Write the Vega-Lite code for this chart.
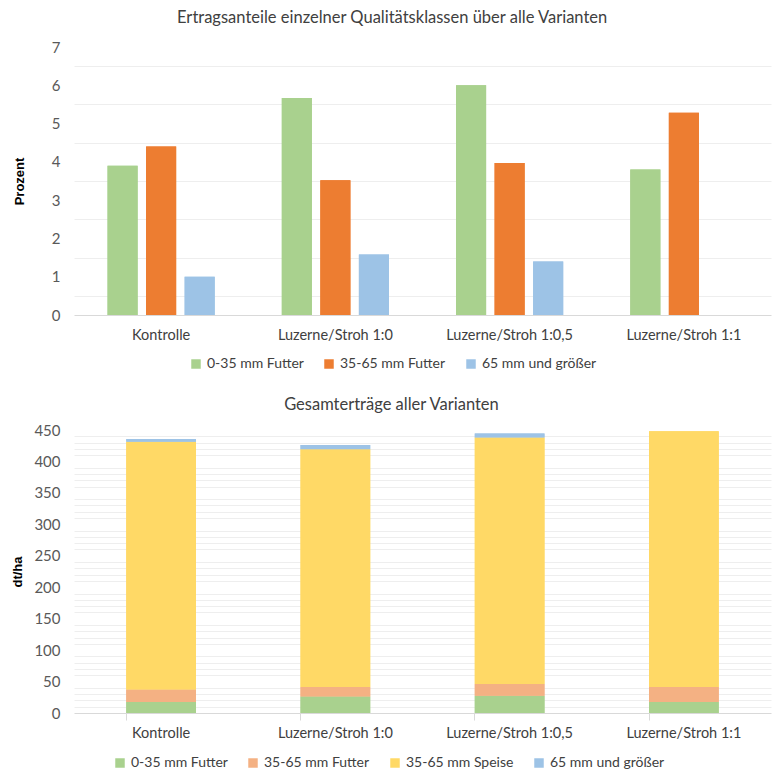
{
  "$schema": "https://vega.github.io/schema/vega-lite/v6.json",
  "background": "white",
  "padding": {"left": 11, "top": 9, "right": 8, "bottom": 4},
  "datasets": {
    "anteile": [
      {"Variante": "Kontrolle", "Klasse": "0-35 mm Futter", "Prozent": 3.9},
      {"Variante": "Kontrolle", "Klasse": "35-65 mm Futter", "Prozent": 4.4},
      {"Variante": "Kontrolle", "Klasse": "65 mm und größer", "Prozent": 1.0},
      {"Variante": "Luzerne/Stroh 1:0", "Klasse": "0-35 mm Futter", "Prozent": 5.67},
      {"Variante": "Luzerne/Stroh 1:0", "Klasse": "35-65 mm Futter", "Prozent": 3.52},
      {"Variante": "Luzerne/Stroh 1:0", "Klasse": "65 mm und größer", "Prozent": 1.58},
      {"Variante": "Luzerne/Stroh 1:0,5", "Klasse": "0-35 mm Futter", "Prozent": 6.0},
      {"Variante": "Luzerne/Stroh 1:0,5", "Klasse": "35-65 mm Futter", "Prozent": 3.97},
      {"Variante": "Luzerne/Stroh 1:0,5", "Klasse": "65 mm und größer", "Prozent": 1.4},
      {"Variante": "Luzerne/Stroh 1:1", "Klasse": "0-35 mm Futter", "Prozent": 3.8},
      {"Variante": "Luzerne/Stroh 1:1", "Klasse": "35-65 mm Futter", "Prozent": 5.28}
    ],
    "ertrag": [
      {"Variante": "Kontrolle", "Klasse": "0-35 mm Futter", "dt": 17.5},
      {"Variante": "Kontrolle", "Klasse": "35-65 mm Futter", "dt": 20},
      {"Variante": "Kontrolle", "Klasse": "35-65 mm Speise", "dt": 394},
      {"Variante": "Kontrolle", "Klasse": "65 mm und größer", "dt": 4.2},
      {"Variante": "Luzerne/Stroh 1:0", "Klasse": "0-35 mm Futter", "dt": 26.4},
      {"Variante": "Luzerne/Stroh 1:0", "Klasse": "35-65 mm Futter", "dt": 14.8},
      {"Variante": "Luzerne/Stroh 1:0", "Klasse": "35-65 mm Speise", "dt": 378},
      {"Variante": "Luzerne/Stroh 1:0", "Klasse": "65 mm und größer", "dt": 7},
      {"Variante": "Luzerne/Stroh 1:0,5", "Klasse": "0-35 mm Futter", "dt": 27.5},
      {"Variante": "Luzerne/Stroh 1:0,5", "Klasse": "35-65 mm Futter", "dt": 18.5},
      {"Variante": "Luzerne/Stroh 1:0,5", "Klasse": "35-65 mm Speise", "dt": 392},
      {"Variante": "Luzerne/Stroh 1:0,5", "Klasse": "65 mm und größer", "dt": 6.3},
      {"Variante": "Luzerne/Stroh 1:1", "Klasse": "0-35 mm Futter", "dt": 17.5},
      {"Variante": "Luzerne/Stroh 1:1", "Klasse": "35-65 mm Futter", "dt": 23.7},
      {"Variante": "Luzerne/Stroh 1:1", "Klasse": "35-65 mm Speise", "dt": 407}
    ]
  },
  "spacing": 25,
  "vconcat": [
    {
      "title": {"text": "Ertragsanteile einzelner Qualitätsklassen über alle Varianten", "offset": 14},
      "data": {"name": "anteile"},
      "width": 697,
      "height": 268,
      "encoding": {
        "x": {
          "field": "Variante", "type": "nominal", "sort": null,
          "scale": {"paddingInner": 0.385, "paddingOuter": 0.1925},
          "axis": {"title": null, "ticks": false, "labelPadding": 13}
        },
        "xOffset": {
          "field": "Klasse", "type": "nominal",
          "scale": {"paddingInner": 0.22, "paddingOuter": 0}
        },
        "color": {
          "field": "Klasse", "type": "nominal",
          "scale": {"range": ["#a9d18e", "#ed7d31", "#9dc3e6"]},
          "legend": {"title": null, "orient": "none", "legendX": 115, "legendY": 310}
        }
      },
      "layer": [
        {
          "mark": {"type": "bar"},
          "encoding": {
            "y": {
              "field": "Prozent", "type": "quantitative",
              "scale": {"domain": [0, 7], "nice": false},
              "axis": {"values": [0.5, 1.5, 2.5, 3.5, 4.5, 5.5, 6.5], "labels": false, "ticks": false, "domain": false, "title": null, "gridColor": "#eeeeee", "orient": "left"}
            }
          }
        },
        {
          "mark": {"type": "bar"},
          "encoding": {
            "y": {
              "field": "Prozent", "type": "quantitative",
              "axis": {"values": [0, 1, 2, 3, 4, 5, 6, 7], "title": "Prozent", "titlePadding": 25, "orient": "left"}
            }
          }
        }
      ],
      "resolve": {"axis": {"y": "independent"}}
    },
    {
      "title": {"text": "Gesamterträge aller Varianten", "offset": 10},
      "data": {"name": "ertrag"},
      "width": 697,
      "height": 283,
      "encoding": {
        "x": {
          "field": "Variante", "type": "nominal", "sort": null,
          "scale": {"paddingInner": 0.6, "paddingOuter": 0.3},
          "axis": {"title": null, "ticks": true, "bandPosition": 0, "tickSize": 7, "tickColor": "#d9d9d9", "labelPadding": 6}
        },
        "color": {
          "field": "Klasse", "type": "nominal",
          "scale": {"range": ["#a9d18e", "#f4b183", "#ffd966", "#9dc3e6"]},
          "legend": {"title": null, "orient": "none", "legendX": 39, "legendY": 326}
        },
        "order": {"field": "Klasse", "sort": "ascending"}
      },
      "layer": [
        {
          "mark": {"type": "bar"},
          "encoding": {
            "y": {
              "field": "dt", "type": "quantitative", "stack": "zero",
              "scale": {"domain": [0, 450], "nice": false},
              "axis": {"values": [10, 20, 30, 40, 60, 70, 80, 90, 110, 120, 130, 140, 160, 170, 180, 190, 210, 220, 230, 240, 260, 270, 280, 290, 310, 320, 330, 340, 360, 370, 380, 390, 410, 420, 430, 440], "labels": false, "ticks": false, "domain": false, "title": null, "gridColor": "#eeeeee", "orient": "left"}
            }
          }
        },
        {
          "mark": {"type": "bar"},
          "encoding": {
            "y": {
              "field": "dt", "type": "quantitative", "stack": "zero",
              "axis": {"values": [0, 50, 100, 150, 200, 250, 300, 350, 400, 450], "title": "dt/ha", "titlePadding": 9, "orient": "left"}
            }
          }
        }
      ],
      "resolve": {"axis": {"y": "independent"}}
    }
  ],
  "resolve": {"scale": {"color": "independent"}},
  "config": {
    "font": "Lato",
    "view": {"stroke": null},
    "title": {"fontSize": 16.5, "fontWeight": "normal", "color": "#404040", "anchor": "middle", "frame": "bounds"},
    "axis": {
      "labelFont": "Lato", "labelFontSize": 14.5, "labelColor": "#595959",
      "titleFont": "Liberation Sans", "titleFontSize": 13, "titleFontWeight": "bold", "titleColor": "#000000",
      "gridColor": "#d9d9d9", "domainColor": "#d9d9d9"
    },
    "axisX": {"labelAngle": 0, "labelColor": "#404040"},
    "axisY": {"domain": false, "ticks": false, "labelPadding": 14, "labelFontSize": 15},
    "legend": {
      "direction": "horizontal", "symbolType": "square", "symbolSize": 90, "padding": 0,
      "labelFontSize": 14, "labelColor": "#404040", "columnPadding": 18, "symbolStrokeWidth": 0
    }
  }
}
